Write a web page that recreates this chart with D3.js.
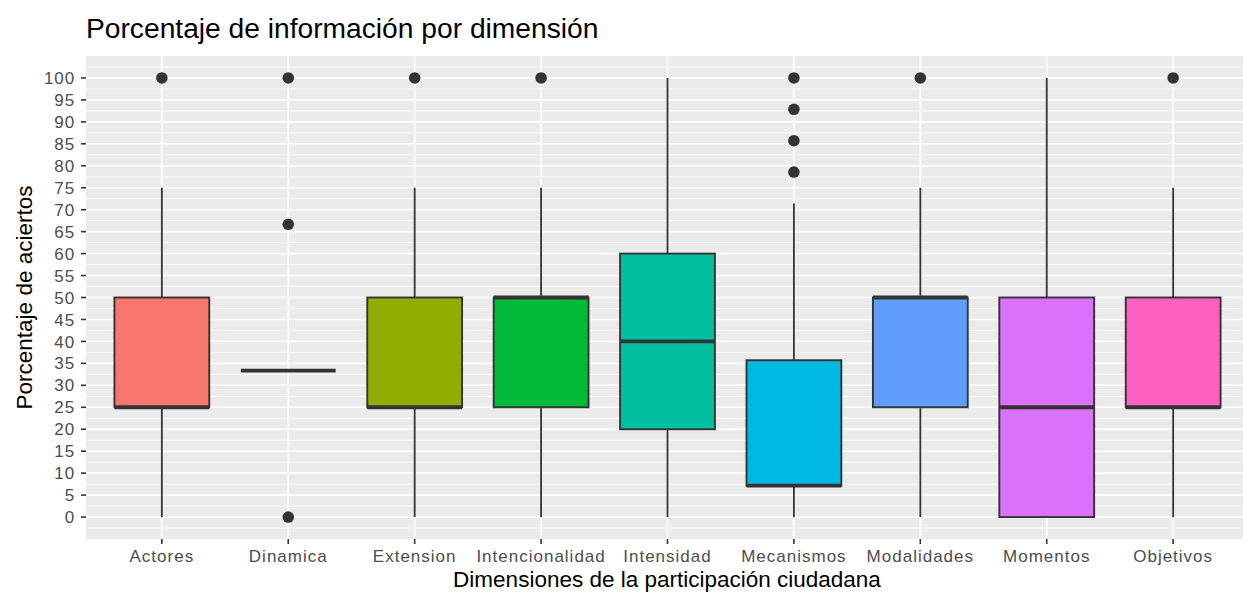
<!DOCTYPE html>
<html>
<head>
<meta charset="utf-8">
<script src="https://cdn.jsdelivr.net/npm/d3@7"></script>
<style>
  body { margin: 0; background: #fff; }
  svg { display: block; font-family: "Liberation Sans", Arial, sans-serif; }
</style>
</head>
<body>
<svg id="chart" width="1243" height="592"></svg>
<script>
// boxplot stats (percent)
const categories = ["Actores", "Dinamica", "Extension", "Intencionalidad", "Intensidad",
                    "Mecanismos", "Modalidades", "Momentos", "Objetivos"];
const lowerWhisker = [0, 33.33, 0, 0, 0, 0, 0, 0, 0];
const q1 = [25, 33.33, 25, 25, 20, 7.14, 25, 0, 25];
const median = [25, 33.33, 25, 50, 40, 7.14, 50, 25, 25];
const q3 = [50, 33.33, 50, 50, 60, 35.71, 50, 50, 50];
const upperWhisker = [75, 33.33, 75, 75, 100, 71.43, 75, 100, 75];
const outliers = [[100], [0, 66.67, 100], [100], [100], [], [78.57, 85.71, 92.86, 100], [100], [], [100]];
const fills = ["#F8766D", "#D39200", "#93AA00", "#00BA38", "#00C19F", "#00B9E3", "#619CFF", "#DB72FB", "#FF61C3"];
const yTicks = d3.range(0, 101, 5);

const svg = d3.select("#chart");
const panel = { left: 86, right: 1249, top: 56, bottom: 539 };

const x = d3.scalePoint()
    .domain(categories)
    .range([panel.left, panel.right])
    .padding(0.6);
const y = d3.scaleLinear()
    .domain([-5, 105])
    .range([panel.bottom, panel.top]);
const boxW = x.step() * 0.75;

// panel background
svg.append("rect")
    .attr("x", panel.left)
    .attr("y", panel.top)
    .attr("width", panel.right - panel.left)
    .attr("height", panel.bottom - panel.top)
    .attr("fill", "#EBEBEB");

const grid = svg.append("g").attr("stroke", "#fff");
// minor lines
grid.selectAll("line.minor")
    .data(d3.range(-2.5, 105, 5))
    .join("line")
    .attr("class", "minor")
    .attr("x1", panel.left).attr("x2", panel.right)
    .attr("y1", d => y(d)).attr("y2", d => y(d))
    .attr("stroke-width", 0.8);
grid.selectAll("line.major")
    .data(yTicks)
    .join("line")
    .attr("class", "major")
    .attr("x1", panel.left).attr("x2", panel.right)
    .attr("y1", d => y(d)).attr("y2", d => y(d))
    .attr("stroke-width", 1.6);
grid.selectAll("line.vert")
    .data(categories)
    .join("line")
    .attr("class", "vert")
    .attr("x1", d => x(d)).attr("x2", d => x(d))
    .attr("y1", panel.top).attr("y2", panel.bottom)
    .attr("stroke-width", 1.6);

// boxes
const boxes = svg.append("g")
    .selectAll("g")
    .data(categories)
    .join("g")
    .attr("transform", d => `translate(${x(d)},0)`);

boxes.append("line")
    .attr("y1", (d, i) => y(upperWhisker[i]))
    .attr("y2", (d, i) => y(q3[i]))
    .attr("stroke", "#333").attr("stroke-width", 1.8);
boxes.append("line")
    .attr("y1", (d, i) => y(q1[i]))
    .attr("y2", (d, i) => y(lowerWhisker[i]))
    .attr("stroke", "#333").attr("stroke-width", 1.8);
boxes.append("rect")
    .attr("x", -boxW / 2)
    .attr("width", boxW)
    .attr("y", (d, i) => y(q3[i]))
    .attr("height", (d, i) => y(q1[i]) - y(q3[i]))
    .attr("fill", (d, i) => fills[i])
    .attr("stroke", "#333")
    .attr("stroke-width", 1.9);
boxes.append("line")
    .attr("x1", -boxW / 2).attr("x2", boxW / 2)
    .attr("y1", (d, i) => y(median[i]))
    .attr("y2", (d, i) => y(median[i]))
    .attr("stroke", "#333").attr("stroke-width", 3.8);
boxes.selectAll("circle")
    .data((d, i) => outliers[i])
    .join("circle")
    .attr("cy", v => y(v))
    .attr("r", 5.8)
    .attr("fill", "#333");

// y axis
const yAxis = svg.append("g");
yAxis.selectAll("line")
    .data(yTicks)
    .join("line")
    .attr("x1", panel.left - 5).attr("x2", panel.left)
    .attr("y1", d => y(d)).attr("y2", d => y(d))
    .attr("stroke", "#333").attr("stroke-width", 1.6);
yAxis.selectAll("text")
    .data(yTicks)
    .join("text")
    .attr("x", panel.left - 11)
    .attr("y", d => y(d))
    .attr("dy", "0.36em")
    .attr("text-anchor", "end")
    .attr("fill", "#4D4D4D")
    .style("font-size", "17px")
    .style("letter-spacing", "0.9px")
    .text(d => d);

// x axis
const xAxis = svg.append("g");
xAxis.selectAll("line")
    .data(categories)
    .join("line")
    .attr("x1", d => x(d)).attr("x2", d => x(d))
    .attr("y1", panel.bottom).attr("y2", panel.bottom + 5)
    .attr("stroke", "#333").attr("stroke-width", 1.6);
xAxis.selectAll("text")
    .data(categories)
    .join("text")
    .attr("x", d => x(d))
    .attr("y", 562)
    .attr("text-anchor", "middle")
    .attr("fill", "#4D4D4D")
    .style("font-size", "17px")
    .style("letter-spacing", "1px")
    .text(d => d);

// titles
svg.append("text")
    .attr("x", 667)
    .attr("y", 587)
    .attr("text-anchor", "middle")
    .style("font-size", "22.5px")
    .text("Dimensiones de la participación ciudadana");
svg.append("text")
    .attr("transform", `translate(32,${(panel.top + panel.bottom) / 2}) rotate(-90)`)
    .attr("text-anchor", "middle")
    .style("font-size", "22.5px")
    .text("Porcentaje de aciertos");
svg.append("text")
    .attr("x", panel.left)
    .attr("y", 38)
    .style("font-size", "28.2px")
    .text("Porcentaje de información por dimensión");
</script>
</body>
</html>
